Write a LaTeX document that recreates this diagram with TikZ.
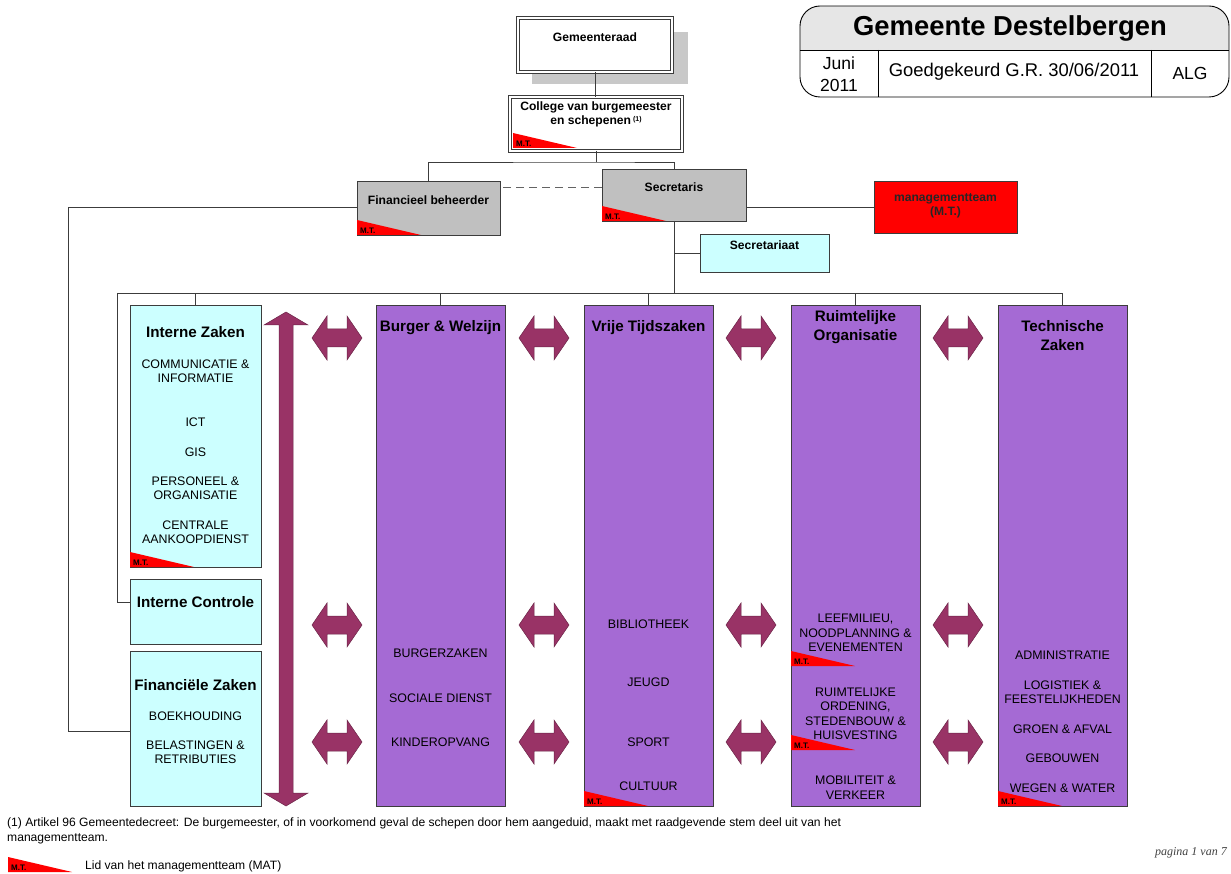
\documentclass[tikz,border=0pt]{standalone}
\usepackage{fontspec}
\setmainfont{Liberation Sans}
\newfontfamily\pagefont{Liberation Serif}
\usetikzlibrary{calc,positioning}
\definecolor{lichtblauw}{RGB}{204,255,255}
\definecolor{paars}{RGB}{165,106,212}
\definecolor{grijs}{RGB}{192,192,192}
\definecolor{schaduw}{RGB}{200,200,200}
\definecolor{pijlkleur}{RGB}{153,51,102}
\definecolor{rand}{RGB}{60,60,60}
\definecolor{titelgrijs}{RGB}{230,230,230}

\begin{document}
\begin{tikzpicture}[x=1pt, y=-1pt,
  box/.style={draw=rand, line width=0.8pt, anchor=north west, inner sep=0pt, outer sep=0pt},
  dbox/.style={box, fill=white, double=white, double distance=1.8pt, line width=0.7pt},
  blauwbox/.style={box, fill=lichtblauw},
  paarsbox/.style={box, fill=paars, minimum width=129pt, minimum height=501pt},
  grijsbox/.style={box, fill=grijs},
  con/.style={draw=rand, line width=0.8pt},
  ttl/.style={font=\bfseries\fontsize{15.2}{19}\selectfont, align=center, inner sep=0pt},
  itm/.style={font=\fontsize{12.4}{14.5}\selectfont, align=center, inner sep=0pt},
  lbl/.style={font=\bfseries\fontsize{12.1}{14.5}\selectfont, align=center, inner sep=0pt},
  hdr/.style={font=\fontsize{17.5}{22}\selectfont, align=center, inner sep=0pt},
  fn/.style={font=\fontsize{12.1}{15}\selectfont, align=left, inner sep=0pt},
  mtl/.style={font=\bfseries\fontsize{8}{8}\selectfont, anchor=south west, inner sep=1pt},
  blk/.style={fill=pijlkleur, draw=pijlkleur!70!black, line width=0.5pt}]
\useasboundingbox (0,0) rectangle (1231,874);

% titelblok
\begin{scope}
\clip[rounded corners=20] (800,6) rectangle (1229,97);
\fill[titelgrijs] (800,6) rectangle (1229,50);
\end{scope}
\draw[line width=0.9pt, rounded corners=20] (800,6) rectangle (1229,97);
\draw[line width=0.9pt] (800,50) -- (1229,50) (878,50) -- (878,97) (1151,50) -- (1151,97);
\node[font=\bfseries\fontsize{27.4}{30}\selectfont, inner sep=0pt] (titel) at (1010,28) {Gemeente Destelbergen};
\node[hdr] (datum) at (839,74) {Juni\\2011};
\node[hdr, font=\fontsize{18.4}{22}\selectfont] (goedk) at (1014,72) {Goedgekeurd G.R. 30/06/2011};
\node[hdr] (alg) at (1190,73) {ALG};

% bestuur
\fill[schaduw] (532,32) rectangle (688,84);
\node[dbox, minimum width=154pt, minimum height=54pt] (gr) at (518,18) {};
\node[lbl] (gr-t) at (595,37) {Gemeenteraad};
\node[dbox, minimum width=172pt, minimum height=54pt] (col) at (510,97) {};
\node[lbl] (col-t) at (596,114.5) {College van burgemeester\\en schepenen\,\raisebox{3pt}{\fontsize{7}{7}\selectfont(1)}};
\node[grijsbox, minimum width=143pt, minimum height=54pt] (fb) at (357,181) {};
\node[lbl] (fb-t) at (428.5,200) {Financieel beheerder};
\node[grijsbox, minimum width=144pt, minimum height=52pt] (sec) at (602,169) {};
\node[lbl] (sec-t) at (674,187) {Secretaris};
\node[box, fill=red, minimum width=143pt, minimum height=52pt] (mt) at (874,181) {};
\node[lbl, text=black!85] (mt-t) at (945.5,206) {managementteam\\(M.T.)};
\node[blauwbox, minimum width=129pt, minimum height=38pt] (secr) at (700,234) {};
\node[lbl] (secr-t) at (764.5,245) {Secretariaat};

% diensten
\node[blauwbox, minimum width=131pt, minimum height=262pt] (iz) at (130,305) {};
\node[blauwbox, minimum width=131pt, minimum height=65pt] (ic) at (130,579) {};
\node[blauwbox, minimum width=131pt, minimum height=155pt] (fz) at (130,651) {};
\node[paarsbox] (bw) at (376,305) {};
\node[paarsbox] (vt) at (584,305) {};
\node[paarsbox] (ro) at (791,305) {};
\node[paarsbox] (tz) at (998,305) {};

\node[ttl] (iz-t) at (195.5,332) {Interne Zaken};
\node[itm] (iz-1) at (195.5,371) {COMMUNICATIE \&\\INFORMATIE};
\node[itm] (iz-2) at (195.5,422) {ICT};
\node[itm] (iz-3) at (195.5,452) {GIS};
\node[itm] (iz-4) at (195.5,488) {PERSONEEL \&\\ORGANISATIE};
\node[itm] (iz-5) at (195.5,532) {CENTRALE\\AANKOOPDIENST};
\node[ttl] (ic-t) at (195.5,602) {Interne Controle};
\node[ttl] (fz-t) at (195.5,685) {Financiële Zaken};
\node[itm] (fz-1) at (195.5,716) {BOEKHOUDING};
\node[itm] (fz-2) at (195.5,752) {BELASTINGEN \&\\RETRIBUTIES};

\node[ttl] (bw-t) at (440.5,328) {Burger \& Welzijn};
\node[itm] (bw-1) at (440.5,653) {BURGERZAKEN};
\node[itm] (bw-2) at (440.5,698) {SOCIALE DIENST};
\node[itm] (bw-3) at (440.5,742) {KINDEROPVANG};

\node[ttl] (vt-t) at (648.5,328) {Vrije Tijdszaken};
\node[itm] (vt-1) at (648.5,624) {BIBLIOTHEEK};
\node[itm] (vt-2) at (648.5,682) {JEUGD};
\node[itm] (vt-3) at (648.5,742) {SPORT};
\node[itm] (vt-4) at (648.5,786) {CULTUUR};

\node[ttl] (ro-t) at (855.5,327.5) {Ruimtelijke\\Organisatie};
\node[itm] (ro-1) at (855.5,633) {LEEFMILIEU,\\NOODPLANNING \&\\EVENEMENTEN};
\node[itm] (ro-2) at (855.5,714) {RUIMTELIJKE\\ORDENING,\\STEDENBOUW \&\\HUISVESTING};
\node[itm] (ro-3) at (855.5,787.5) {MOBILITEIT \&\\VERKEER};

\node[ttl] (tz-t) at (1062.5,335.5) {Technische\\Zaken};
\node[itm] (tz-1) at (1062.5,655) {ADMINISTRATIE};
\node[itm] (tz-2) at (1062.5,692) {LOGISTIEK \&\\FEESTELIJKHEDEN};
\node[itm] (tz-3) at (1062.5,729) {GROEN \& AFVAL};
\node[itm] (tz-4) at (1062.5,758) {GEBOUWEN};
\node[itm] (tz-5) at (1062.5,788) {WEGEN \& WATER};

% verbindingen
\coordinate (split) at (596,162);
\coordinate (lft) at (68,207);
\coordinate (bus) at (674,293);
\coordinate (busl) at (117,293);
\draw[con] (gr.south) -- (gr.south |- col.north);
\draw[con] (col.south) -- (split);
\draw[con] (fb.north) |- (split) -| (sec.north);
\draw[con, dashed, dash pattern=on 8pt off 5pt, draw=rand!80] (sec.west |- sec-t) -- (fb.east |- sec-t);
\draw[con] (mt.west) -- (mt.west -| sec.east);
\draw[con] (fb.west |- lft) -- (lft) |- (fz.west |- 0,731);
\draw[con] (sec.south) -- (bus);
\draw[con] (secr.west) -- (secr.west -| bus);
\draw[con] (busl) -- (bus -| tz.north) -- (tz.north);
\foreach \n in {iz,bw,vt,ro}{\draw[con] (\n.north) -- (\n.north |- bus);}
\draw[con] (busl) |- (ic.west |- ic-t);

% pijlen
\draw[blk] (286,312) -- (308,325) -- (293,325) -- (293,793) -- (308,793) -- (286,806)
  -- (264,793) -- (279,793) -- (279,325) -- (264,325) -- cycle;
\foreach \x in {337,544,751,958}{
  \foreach \y in {338,625,742}{
    \draw[blk] (\x-25,\y) -- (\x-10,\y-22) -- (\x-10,\y-9) -- (\x+10,\y-9) -- (\x+10,\y-22)
      -- (\x+25,\y) -- (\x+10,\y+22) -- (\x+10,\y+9) -- (\x-10,\y+9) -- (\x-10,\y+22) -- cycle;
  }
}

% M.T. vlaggen
\foreach \fx/\fy in {513/148, 357/235, 602/221, 130/567, 584/806, 791/666, 791/750, 998/806, 8/872}{
  \fill[red] (\fx,\fy) -- (\fx,\fy-15) -- (\fx+64,\fy) -- cycle;
  \node[mtl] (mt\fx-\fy) at (\fx+2,\fy) {M.T.};
}

% voetnoot
\node[fn, anchor=north west] (voetnoot) at (7,818) {(1) Artikel 96 Gemeentedecreet: De burgemeester, of in voorkomend geval de schepen door hem aangeduid, maakt met raadgevende stem deel uit van het\\managementteam.};
\node[fn, anchor=west] (legende) at (85,866) {Lid van het managementteam (MAT)};
\node[font=\pagefont\itshape\fontsize{12}{12}\selectfont, anchor=east, inner sep=0pt, text=black!75] (pagina) at (1227,853) {pagina 1 van 7};
\end{tikzpicture}
\end{document}
